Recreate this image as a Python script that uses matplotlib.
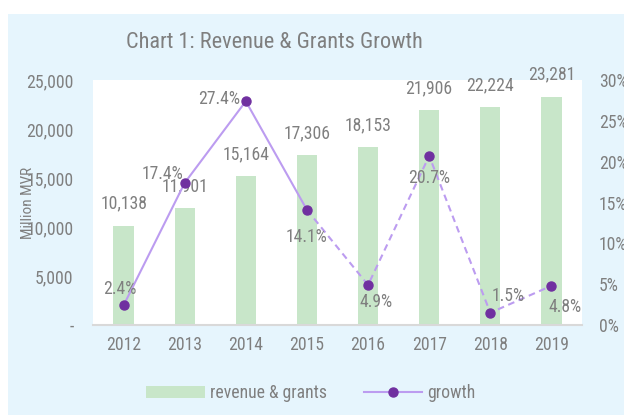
import matplotlib
matplotlib.use("Agg")
import matplotlib.pyplot as plt
from matplotlib import font_manager
from matplotlib.patches import Rectangle, Patch
from matplotlib.lines import Line2D

_names = {f.name for f in font_manager.fontManager.ttflist}
_font = 'Roboto'
for cand in ['Roboto Condensed', 'Liberation Sans Narrow', 'Open Sans Condensed']:
    if cand in _names:
        _font = cand
        break
CONDENSED = _font != 'Roboto'
plt.rcParams['font.family'] = [_font, 'DejaVu Sans']

years = ['2012', '2013', '2014', '2015', '2016', '2017', '2018', '2019']
revenue = [10138, 11901, 15164, 17306, 18153, 21906, 22224, 23281]
growth = [2.4, 17.4, 27.4, 14.1, 4.9, 20.7, 1.5, 4.8]
left_ticks = [0, 5000, 10000, 15000, 20000, 25000]
left_labels = ['-', '5,000', '10,000', '15,000', '20,000', '25,000']
right_ticks = [0, 5, 10, 15, 20, 25, 30]
right_labels = ['0%', '5%', '10%', '15%', '20%', '25%', '30%']

TXT = '#7F7F7F'
BG = '#E6F5FD'
BAR = '#C8E6C9'
LINE = '#BC9CF0'
MARK = '#7030A0'

if CONDENSED:
    FS, TFS, YFS = 12.7, 16.0, 11.0
else:
    FS, TFS, YFS = 11.0, 15.0, 9.5

W, H = 624, 415
fig = plt.figure(figsize=(W / 100, H / 100), dpi=100, facecolor='white')
fig.patches.append(Rectangle((8 / W, 0), 1 - 8 / W, 1 - 14 / H, transform=fig.transFigure,
                             facecolor=BG, edgecolor='none', zorder=-10))

ax = fig.add_axes([93 / W, 1 - 325 / H, (582 - 93) / W, (325 - 80) / H])
ax.set_facecolor('white')
x = list(range(len(years)))
ax.bar(x, revenue, width=0.33, color=BAR, zorder=2)
ax.set_xlim(-0.5, len(years) - 0.5)
ax.set_ylim(0, 25000)
ax.set_yticks(left_ticks)
ax.set_yticklabels(left_labels)
ax.set_xticks(x)
ax.set_xticklabels(years)
for s in ['top', 'right', 'left']:
    ax.spines[s].set_visible(False)
ax.spines['bottom'].set_color('#D9D9D9')
ax.spines['bottom'].set_linewidth(1.5)
ax.tick_params(axis='both', length=0, colors=TXT, labelsize=FS)
ax.tick_params(axis='x', pad=8)
ax.tick_params(axis='y', pad=14)
ax.set_ylabel('Million MVR', color=TXT, fontsize=YFS)
ax.yaxis.set_label_coords(-0.118, 0.5)

for xi, v in zip(x, revenue):
    ax.annotate(f'{v:,}', (xi, v), xytext=(0, 16), textcoords='offset points',
                ha='center', va='center', color=TXT, fontsize=FS, zorder=5)

ax2 = ax.twinx()
ax2.set_ylim(0, 30)
ax2.set_yticks(right_ticks)
ax2.set_yticklabels(right_labels)
for s in ['top', 'right', 'left', 'bottom']:
    ax2.spines[s].set_visible(False)
ax2.tick_params(axis='y', length=0, colors=TXT, labelsize=FS, pad=12)

ax2.plot(x[:4], growth[:4], color=LINE, lw=1.5, zorder=3)
ax2.plot(x[3:], growth[3:], color=LINE, lw=1.5, ls=(0, (3.2, 2.2)), zorder=3)
ax2.plot(x, growth, ls='none', marker='o', ms=6.5, color=MARK, zorder=4)

offsets = [(-3, 11.5), (-16, 6.5), (-19, 1.5), (0, -19.5), (6, -12), (0, -16), (13, 12), (10, -15)]
for xi, g, off in zip(x, growth, offsets):
    ax2.annotate(f'{g}%', (xi, g), xytext=off, textcoords='offset points',
                 ha='center', va='center', color=TXT, fontsize=FS, zorder=6)

fig.text(274 / W, 1 - 43 / H, 'Chart 1: Revenue & Grants Growth', ha='center', va='center',
         color=TXT, fontsize=TFS)

handles = [Patch(facecolor=BAR, edgecolor='none'),
           Line2D([0], [0], color=LINE, lw=1.5, marker='o', ms=6.5,
                  markerfacecolor=MARK, markeredgecolor=MARK)]
leg = fig.legend(handles, ['revenue & grants', 'growth'], loc='center',
                 bbox_to_anchor=(311 / W, 1 - 393 / H), ncol=2, frameon=False,
                 fontsize=FS, handlelength=3.3, handleheight=0.7, columnspacing=2.1,
                 handletextpad=0.3)
for t in leg.get_texts():
    t.set_color(TXT)

fig.savefig('out.png', dpi=100, facecolor='white')
